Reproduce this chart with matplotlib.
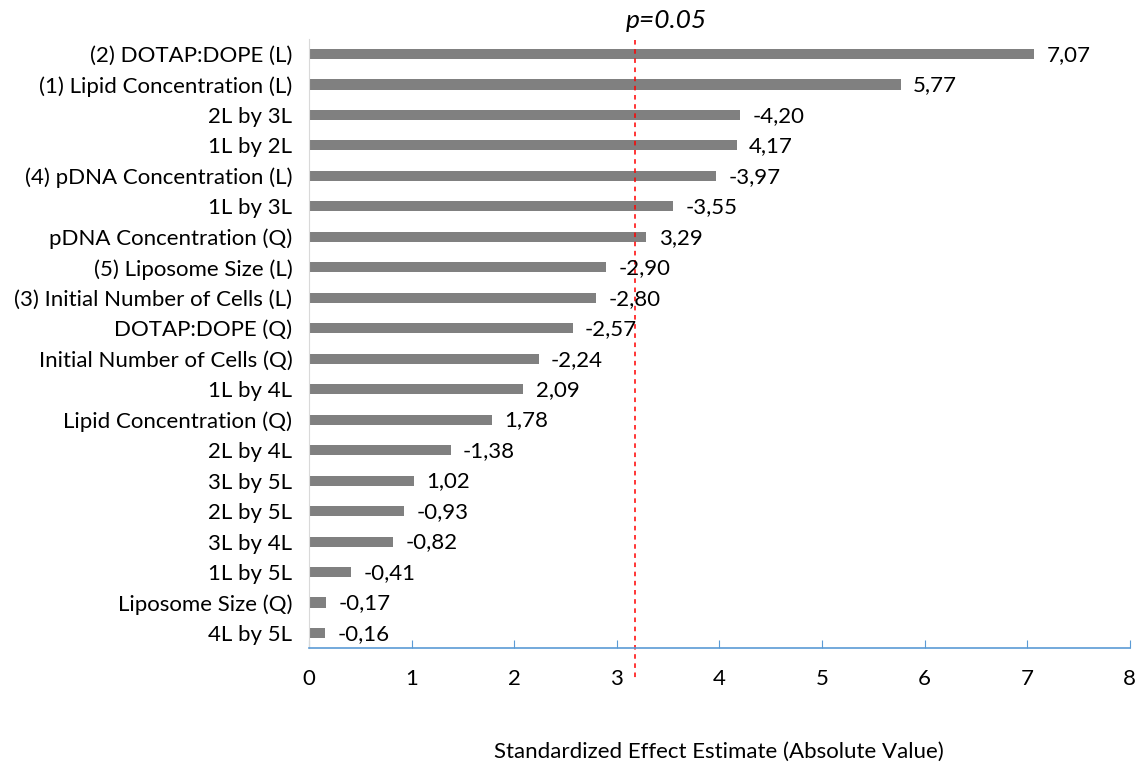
import matplotlib.pyplot as plt

factors = [
    "(2) DOTAP:DOPE (L)", "(1) Lipid Concentration (L)", "2L by 3L", "1L by 2L",
    "(4) pDNA Concentration (L)", "1L by 3L", "pDNA Concentration (Q)",
    "(5) Liposome Size (L)", "(3) Initial Number of Cells (L)", "DOTAP:DOPE (Q)",
    "Initial Number of Cells (Q)", "1L by 4L", "Lipid Concentration (Q)",
    "2L by 4L", "3L by 5L", "2L by 5L", "3L by 4L", "1L by 5L",
    "Liposome Size (Q)", "4L by 5L",
]
effects = [7.07, 5.77, -4.20, 4.17, -3.97, -3.55, 3.29, -2.90, -2.80, -2.57,
           -2.24, 2.09, 1.78, -1.38, 1.02, -0.93, -0.82, -0.41, -0.17, -0.16]
p_limit = 3.18

plt.rcParams['font.family'] = ['Lato', 'DejaVu Sans']
fs = 16

fig = plt.figure(figsize=(11.4, 7.68), dpi=100)
ax = fig.add_axes([0.271, 0.156, 0.72, 0.7935])

pos = list(range(len(factors)))
ax.barh(pos, [abs(v) for v in effects], height=0.33, color="#808080")

for i, v in enumerate(effects):
    txt = f"{v:.2f}".replace(".", ",")
    ax.text(abs(v) + 0.12, i + 0.03, txt, va="center", ha="left", fontsize=fs)

ax.set_yticks(pos)
ax.set_yticklabels(factors, fontsize=fs)
ax.set_ylim(19.5, -0.5)
ax.set_xlim(0, 8)
ax.set_xticks(range(9))
ax.tick_params(axis="x", direction="in", length=6, color="#5b9bd5",
               labelsize=fs, pad=15)
ax.tick_params(axis="y", length=0, pad=12)

for s in ["top", "right"]:
    ax.spines[s].set_visible(False)
ax.spines["left"].set_color("#d9d9d9")
ax.spines["bottom"].set_color("#5b9bd5")
ax.spines["bottom"].set_linewidth(1.2)

# significance threshold
ax.plot([p_limit, p_limit], [-0.46, 20.55], color="red", linestyle=(0, (3, 3)),
        linewidth=1.1, clip_on=False)
ax.text(p_limit + 0.3, -1.1, "p=0.05", style="italic", fontsize=19,
        ha="center", va="center")

ax.set_xlabel("Standardized Effect Estimate (Absolute Value)", fontsize=fs,
              labelpad=38)

fig.savefig("out.png", dpi=100)
